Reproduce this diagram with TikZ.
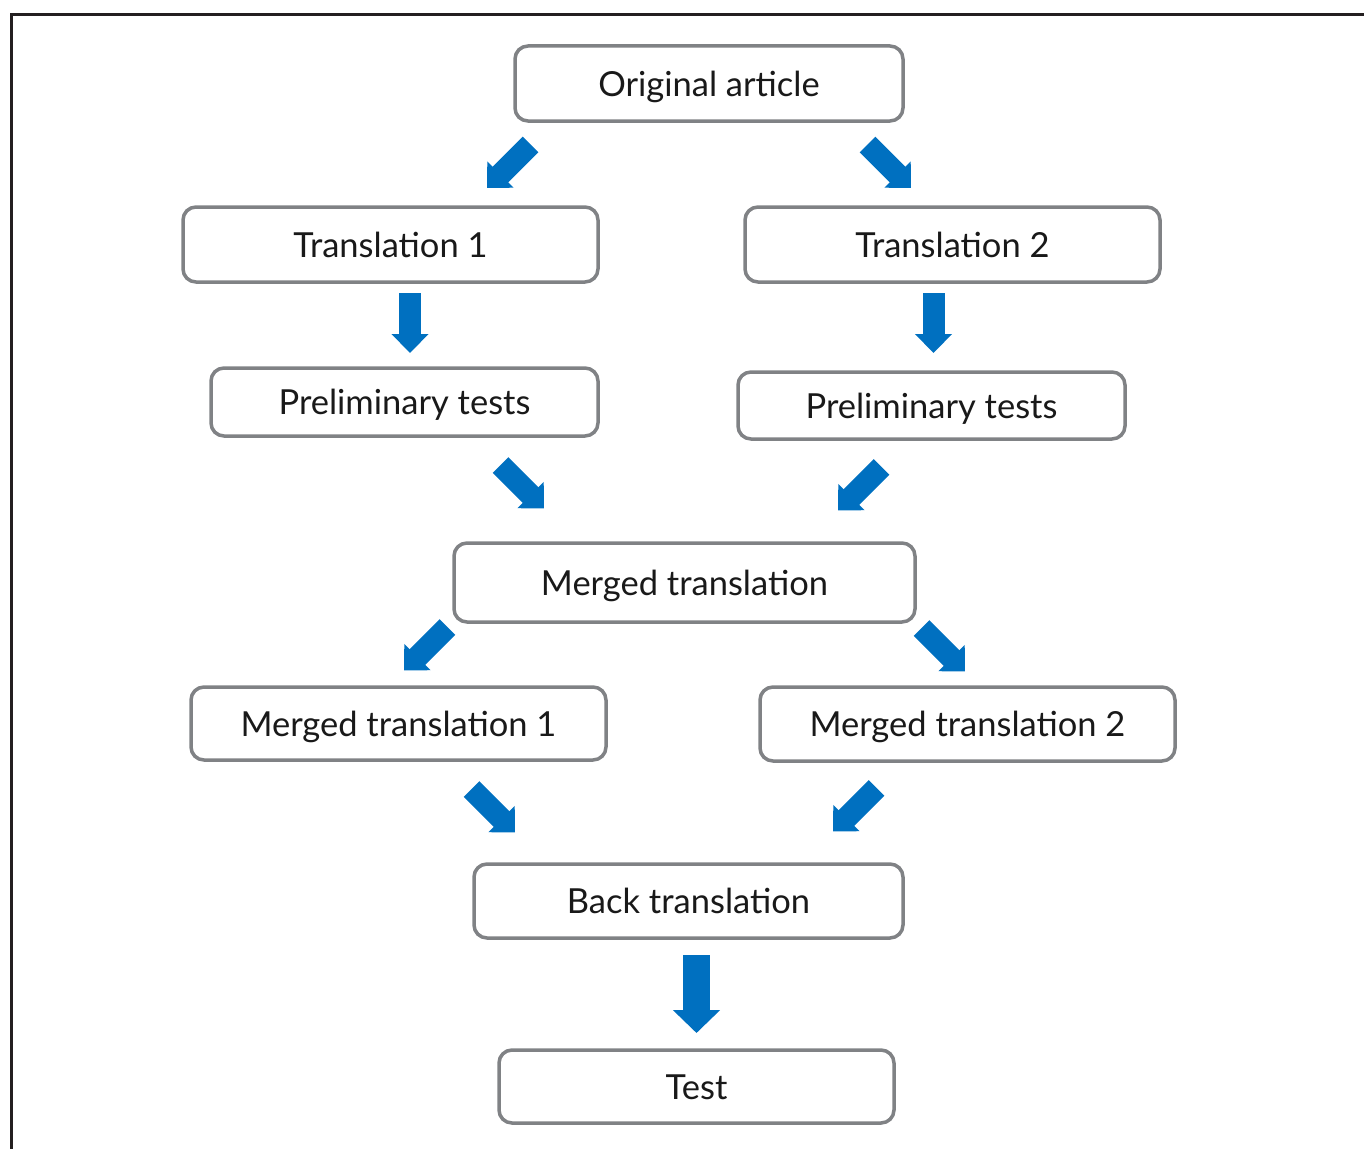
\documentclass[tikz,border=0pt]{standalone}
\usepackage{fontspec}
\setmainfont{Lato}
\usetikzlibrary{arrows.meta}
\definecolor{boxgray}{RGB}{128,130,133}
\definecolor{arrowblue}{RGB}{0,112,192}
\definecolor{framedark}{RGB}{35,31,32}
\tikzset{
  stepbox/.style={draw=boxgray, line width=3.5pt, rounded corners=13pt, fill=white,
    inner sep=0pt, text height=25pt, text depth=0pt, font=\fontsize{34.5}{40}\selectfont, text=black!90},
  blockarrow/.style={draw=arrowblue, line width=22pt, line cap=butt,
    -{Triangle[length=19pt,width=36pt]}},
  bigblockarrow/.style={draw=arrowblue, line width=27pt, line cap=butt,
    -{Triangle[length=23pt,width=46pt]}},
}
\begin{document}
\begin{tikzpicture}[x=1pt,y=-1pt]
\useasboundingbox (0,0) rectangle (1364,1148);
\clip (0,0) rectangle (1364,1148);
\draw[framedark, line width=3pt] (11,1200) -- (11,14.5) -- (1400,14.5);

\node[stepbox, minimum width=388pt, minimum height=75pt] (orig) at (709,83.5) {Original article};
\node[stepbox, minimum width=415pt, minimum height=75pt] (t1) at (390.5,244.5) {Translation 1};
\node[stepbox, minimum width=415pt, minimum height=75pt] (t2) at (952.5,244.5) {Translation 2};
\node[stepbox, minimum width=387pt, minimum height=68pt] (p1) at (404.5,402) {Preliminary tests};
\node[stepbox, minimum width=387pt, minimum height=67pt] (p2) at (931.5,405.5) {Preliminary tests};
\node[stepbox, minimum width=461pt, minimum height=79pt] (merged) at (684.5,582.5) {Merged translation};
\node[stepbox, minimum width=415pt, minimum height=73pt] (mt1) at (398.5,723.5) {Merged translation 1};
\node[stepbox, minimum width=415pt, minimum height=74pt] (mt2) at (967.5,724) {Merged translation 2};
\node[stepbox, minimum width=429pt, minimum height=74pt] (back) at (688.5,901) {Back translation};
\node[stepbox, minimum width=395pt, minimum height=73pt] (test) at (696.5,1086.5) {Test};

% arrow end points
\coordinate (a1s) at (530.5,144.5); \coordinate (a1e) at (487,188);
\coordinate (a2s) at (867.5,144.5); \coordinate (a2e) at (911,188);
\coordinate (a3s) at (410,293);     \coordinate (a3e) at (410,353);
\coordinate (a4s) at (933.5,293);   \coordinate (a4e) at (933.5,353);
\coordinate (a5s) at (500.5,465);   \coordinate (a5e) at (544,508.5);
\coordinate (a6s) at (881.5,467);   \coordinate (a6e) at (838,510.5);
\coordinate (a7s) at (447.5,627);   \coordinate (a7e) at (404,670.5);
\coordinate (a8s) at (921.5,628);   \coordinate (a8e) at (965,671.5);
\coordinate (a9s) at (471.5,789);   \coordinate (a9e) at (515,832.5);
\coordinate (a10s) at (876.5,788);  \coordinate (a10e) at (833,831.5);
\coordinate (a11s) at (696.5,955);  \coordinate (a11e) at (696.5,1033);

\draw[blockarrow] (a1s) -- (a1e);
\draw[blockarrow] (a2s) -- (a2e);
\draw[blockarrow] (a3s) -- (a3e);
\draw[blockarrow] (a4s) -- (a4e);
\draw[blockarrow] (a5s) -- (a5e);
\draw[blockarrow] (a6s) -- (a6e);
\draw[blockarrow] (a7s) -- (a7e);
\draw[blockarrow] (a8s) -- (a8e);
\draw[blockarrow] (a9s) -- (a9e);
\draw[blockarrow] (a10s) -- (a10e);
\draw[bigblockarrow] (a11s) -- (a11e);
\end{tikzpicture}
\end{document}
